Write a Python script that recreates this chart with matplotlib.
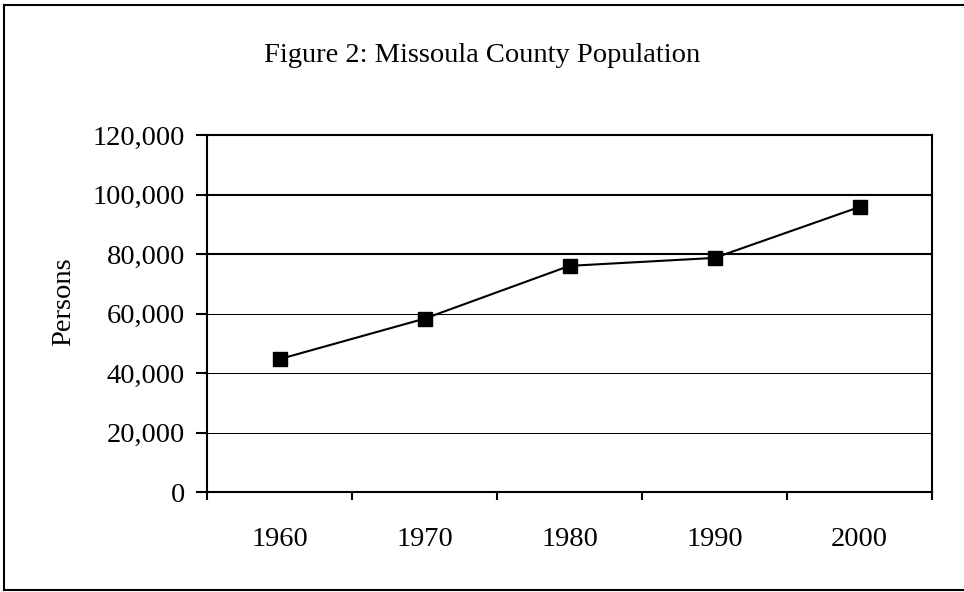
import matplotlib
matplotlib.use("Agg")
import matplotlib.pyplot as plt
from matplotlib.lines import Line2D
from matplotlib.ticker import FuncFormatter, FixedLocator

years = ["1960", "1970", "1980", "1990", "2000"]
population = [44663, 58263, 76016, 78687, 95802]
y_ticks = [0, 20000, 40000, 60000, 80000, 100000, 120000]

plt.rcParams["font.family"] = ["Liberation Serif", "DejaVu Serif"]
FS = 20.5

fig = plt.figure(figsize=(9.64, 5.92), dpi=100)
ax = fig.add_axes([207 / 964, 1 - 492 / 592, (932 - 207) / 964, (492 - 135) / 592])

x = list(range(len(years)))

# horizontal gridlines (upper ones print heavier)
grid_widths = {20000: 0.75, 40000: 0.75, 60000: 0.75, 80000: 1.5, 100000: 1.5, 120000: 1.5}
for val, lw in grid_widths.items():
    ax.axhline(val, color="black", lw=lw, zorder=1, clip_on=False)

ax.plot(x, population, color="black", lw=1.5, marker="s", markersize=9.5,
        markerfacecolor="black", markeredgecolor="black", zorder=3)

ax.set_xlim(-0.5, len(years) - 0.5)
ax.set_ylim(0, 120000)

# category labels centred, tick marks between categories
ax.set_xticks(x)
ax.set_xticklabels(years, fontsize=FS)
ax.tick_params(axis="x", which="major", length=0, pad=25)
ax.xaxis.set_minor_locator(FixedLocator([i - 0.5 for i in range(len(years) + 1)]))
ax.tick_params(axis="x", which="minor", length=6, width=1.5, direction="out")

ax.set_yticks(y_ticks)
ax.yaxis.set_major_formatter(FuncFormatter(lambda v, p: f"{int(v):,}"))
ax.tick_params(axis="y", length=8, width=1.5, direction="out", labelsize=FS, pad=8)

ax.set_ylabel("Persons", fontsize=FS)
ax.yaxis.set_label_coords(-0.181, 0.532)

for side in ("left", "bottom", "right"):
    ax.spines[side].set_linewidth(1.5)
ax.spines["top"].set_visible(False)

fig.text(0.5, 1 - 55 / 592, "Figure 2: Missoula County Population",
         ha="center", va="center", fontsize=FS)

# outer frame around the whole chart
frame_kw = dict(color="black", lw=1.5, transform=fig.transFigure)
fig.add_artist(Line2D([4 / 964, 4 / 964], [1 - 5 / 592, 1 - 590 / 592], **frame_kw))
fig.add_artist(Line2D([4 / 964, 1.0], [1 - 5 / 592, 1 - 5 / 592], **frame_kw))
fig.add_artist(Line2D([4 / 964, 1.0], [1 - 590 / 592, 1 - 590 / 592], **frame_kw))

fig.savefig("out.png", dpi=100)
